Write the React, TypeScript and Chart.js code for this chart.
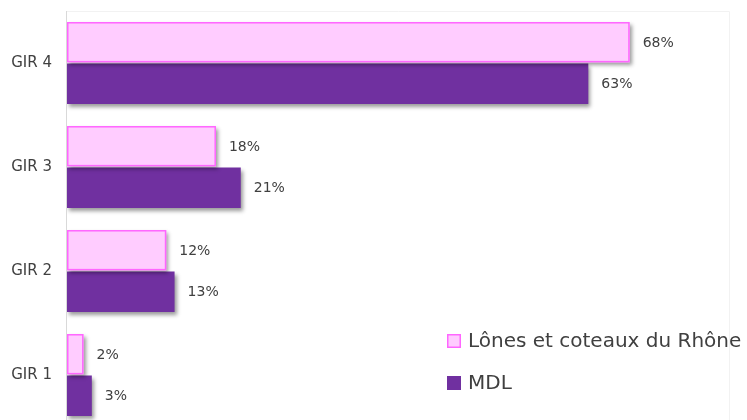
import React, { useEffect, useRef } from 'react';
import { Chart, registerables } from 'chart.js';

Chart.register(...registerables);

const categories = ['GIR 4', 'GIR 3', 'GIR 2', 'GIR 1'];
const seriesNames = ['Lônes et coteaux du Rhône', 'MDL'];
const lonesValues = [68, 18, 12, 2];
const mdlValues = [63, 21, 13, 3];
const xMin = 0;
const xMax = 80;

const PINK_FILL = '#FFCCFF';
const PINK_BORDER = '#FF66FF';
const PURPLE = '#7030A0';
const TEXT = '#404040';

const framePlugin = {
  id: 'frame',
  beforeDatasetsDraw(chart: any) {
    const { ctx, chartArea } = chart;
    const { left, top, right, bottom } = chartArea;
    ctx.save();
    ctx.strokeStyle = '#F2F2F2';
    ctx.lineWidth = 1;
    ctx.beginPath();
    ctx.moveTo(left, top + 0.5);
    ctx.lineTo(right + 0.5, top + 0.5);
    ctx.lineTo(right + 0.5, bottom);
    ctx.stroke();
    ctx.strokeStyle = '#D9D9D9';
    ctx.beginPath();
    ctx.moveTo(left - 0.5, top);
    ctx.lineTo(left - 0.5, bottom);
    ctx.stroke();
    ctx.restore();
  },
};

const shadowPlugin = {
  id: 'barShadow',
  beforeDatasetDraw(chart: any) {
    const ctx = chart.ctx;
    ctx.save();
    ctx.shadowColor = 'rgba(0,0,0,0.4)';
    ctx.shadowBlur = 4;
    ctx.shadowOffsetX = 2;
    ctx.shadowOffsetY = 3;
  },
  afterDatasetDraw(chart: any, args: any) {
    const ctx = chart.ctx;
    ctx.restore();
    const ds = chart.data.datasets[args.index];
    if (ds.outlineColor) {
      const meta = chart.getDatasetMeta(args.index);
      ctx.save();
      ctx.strokeStyle = ds.outlineColor;
      ctx.lineWidth = 1.5;
      meta.data.forEach((el: any) => {
        const x1 = Math.min(el.base, el.x);
        const x2 = Math.max(el.base, el.x);
        const y1 = el.y - el.height / 2;
        ctx.strokeRect(x1 + 0.75, y1 + 0.75, x2 - x1 - 1.5, el.height - 1.5);
      });
      ctx.restore();
    }
  },
};

const valueLabelPlugin = {
  id: 'valueLabels',
  afterDatasetsDraw(chart: any) {
    const ctx = chart.ctx;
    ctx.save();
    ctx.font = '14px "DejaVu Sans", sans-serif';
    ctx.fillStyle = TEXT;
    ctx.textAlign = 'left';
    ctx.textBaseline = 'middle';
    chart.data.datasets.forEach((ds: any, di: number) => {
      const meta = chart.getDatasetMeta(di);
      meta.data.forEach((el: any, i: number) => {
        ctx.fillText(`${ds.data[i]}%`, el.x + 13, el.y + 1);
      });
    });
    ctx.restore();
  },
};

const legendPlugin = {
  id: 'insideLegend',
  afterDraw(chart: any) {
    const { ctx, chartArea } = chart;
    const x0 = chartArea.right - 282;
    const rows = [341, 383];
    ctx.save();
    ctx.font = '20px "DejaVu Sans", sans-serif';
    ctx.textAlign = 'left';
    ctx.textBaseline = 'middle';
    chart.data.datasets.forEach((ds: any, di: number) => {
      const cy = rows[di];
      ctx.fillStyle = ds.backgroundColor;
      ctx.fillRect(x0, cy - 7, 14, 14);
      if (ds.outlineColor) {
        ctx.strokeStyle = ds.outlineColor;
        ctx.lineWidth = 1.5;
        ctx.strokeRect(x0 + 0.75, cy - 6.25, 12.5, 12.5);
      }
      ctx.fillStyle = TEXT;
      ctx.fillText(ds.label, x0 + 21, cy + 1);
    });
    ctx.restore();
  },
};

export default function App() {
  const canvasRef = useRef<HTMLCanvasElement | null>(null);

  useEffect(() => {
    if (!canvasRef.current) return;
    const chart = new Chart(canvasRef.current, {
      type: 'bar',
      data: {
        labels: categories,
        datasets: [
          {
            label: seriesNames[0],
            data: lonesValues,
            backgroundColor: PINK_FILL,
            outlineColor: PINK_BORDER,
            borderWidth: 0,
            categoryPercentage: 0.8,
            barPercentage: 0.97,
          },
          {
            label: seriesNames[1],
            data: mdlValues,
            backgroundColor: PURPLE,
            borderWidth: 0,
            categoryPercentage: 0.8,
            barPercentage: 0.97,
          },
        ],
      },
      options: {
        indexAxis: 'y',
        responsive: false,
        animation: false,
        devicePixelRatio: 1,
        layout: { padding: { top: 11, right: 18, bottom: 13, left: 0 } },
        plugins: {
          legend: { display: false },
          tooltip: { enabled: false },
        },
        scales: {
          x: {
            display: false,
            min: xMin,
            max: xMax,
          },
          y: {
            grid: { display: false, drawTicks: false },
            border: { display: false },
            ticks: {
              color: TEXT,
              padding: 15,
              font: { family: '"DejaVu Sans", sans-serif', size: 15 },
            },
            afterFit(scale: any) {
              scale.width = 67;
              scale.paddingTop = 0;
              scale.paddingBottom = 0;
            },
          },
        },
      },
      plugins: [framePlugin, shadowPlugin, valueLabelPlugin, legendPlugin],
    } as any);
    return () => chart.destroy();
  }, []);

  return (
    <div
      style={{
        position: 'absolute',
        left: 0,
        top: 0,
        width: 747,
        height: 420,
        overflow: 'hidden',
        background: '#fff',
      }}
    >
      <canvas ref={canvasRef} width={747} height={440} style={{ display: 'block' }} />
    </div>
  );
}
